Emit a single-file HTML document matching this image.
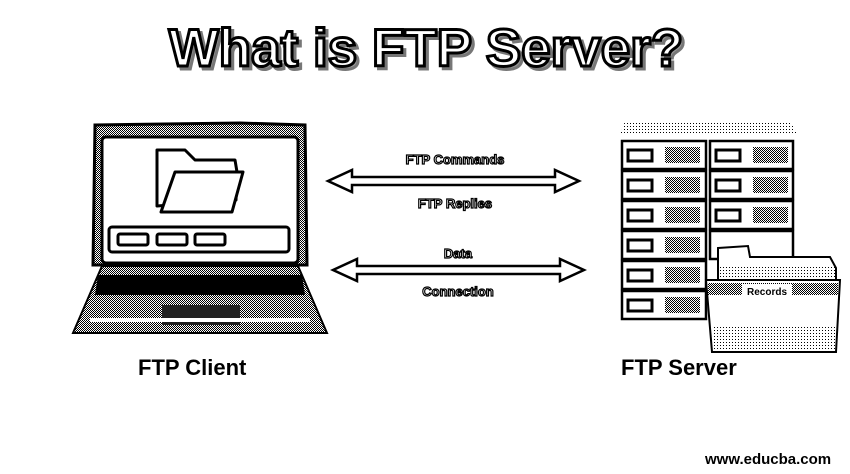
<!DOCTYPE html>
<html><head><style>
body{margin:0;width:850px;height:474px;background:#fff;overflow:hidden;position:relative;font-family:"Liberation Sans",sans-serif}
.t{position:absolute;font-weight:bold}
</style></head><body>
<svg width="850" height="474" style="position:absolute;left:0;top:0">
<defs>
<pattern id="d" width="2" height="2" patternUnits="userSpaceOnUse"><rect width="1" height="1" fill="#000"/><rect x="1" y="1" width="1" height="1" fill="#000"/></pattern>
<pattern id="l" width="3" height="3" patternUnits="userSpaceOnUse"><rect width="1" height="1" fill="#000"/></pattern>
</defs>
<text x="426" y="66" text-anchor="middle" font-family="Liberation Sans" font-weight="bold" font-size="53" fill="#999" stroke="#777" stroke-width="3" transform="translate(3,3)">What is FTP Server?</text>
<text x="426" y="66" text-anchor="middle" font-family="Liberation Sans" font-weight="bold" font-size="53" fill="#fff" stroke="#000" stroke-width="3">What is FTP Server?</text>
<path d="M95 125 L240 123 L305 125 L307 265 L93 265 Z" fill="url(#d)" stroke="#000" stroke-width="3"/>
<rect x="102" y="137" width="196" height="126" rx="4" fill="#fff" stroke="#000" stroke-width="3"/>
<path d="M157 150 L185 150 L195 160 L235 160 L237 172 L236 200 L157 206 Z" fill="#fff" stroke="#000" stroke-width="3" stroke-linejoin="round"/>
<path d="M175 172 L243 172 L232 212 L161 212 Z" fill="#fff" stroke="#000" stroke-width="3" stroke-linejoin="round"/>
<rect x="109" y="227" width="180" height="25" rx="3" fill="#fff" stroke="#000" stroke-width="3"/>
<rect x="118" y="234" width="30" height="11" rx="2" fill="#fff" stroke="#000" stroke-width="3"/>
<rect x="157" y="234" width="30" height="11" rx="2" fill="#fff" stroke="#000" stroke-width="3"/>
<rect x="195" y="234" width="30" height="11" rx="2" fill="#fff" stroke="#000" stroke-width="3"/>
<path d="M102 266 L298 266 L327 333 L73 333 Z" fill="url(#d)" stroke="#000" stroke-width="2"/>
<path d="M98 275 L302 275 L305 295 L95 295 Z" fill="#000"/>
<rect x="162" y="305" width="78" height="20" fill="#222"/>
<path d="M90 320 L310 320" stroke="#fff" stroke-width="4"/>
<g fill="#fff" stroke="#000" stroke-width="2.5">
<path d="M328 181 L352 170 L352 177 L555 177 L555 170 L579 181 L555 192 L555 185 L352 185 L352 192 Z"/>
<path d="M333 270 L357 259 L357 266 L560 266 L560 259 L584 270 L560 281 L560 274 L357 274 L357 281 Z"/>
</g>
<g font-family="Liberation Sans" font-weight="bold" font-size="13" text-anchor="middle" fill="#fff" stroke="#000" stroke-width="1.2">
<text x="455" y="164">FTP Commands</text>
<text x="455" y="208">FTP Replies</text>
<text x="458" y="258">Data</text>
<text x="458" y="296">Connection</text>
</g>
<path d="M625 121 L790 121 L798 135 L620 135 Z" fill="url(#l)"/>
<g stroke="#000" stroke-width="2.5">
<rect x="622" y="141" width="84" height="28" fill="#fff"/><rect x="710" y="141" width="83" height="28" fill="#fff"/>
<rect x="622" y="171" width="84" height="28" fill="#fff"/><rect x="710" y="171" width="83" height="28" fill="#fff"/>
<rect x="622" y="201" width="84" height="28" fill="#fff"/><rect x="710" y="201" width="83" height="28" fill="#fff"/>
<rect x="622" y="231" width="84" height="28" fill="#fff"/><rect x="710" y="231" width="83" height="28" fill="#fff"/>
<rect x="622" y="261" width="84" height="28" fill="#fff"/>
<rect x="622" y="291" width="84" height="28" fill="#fff"/>
</g>
<g fill="#fff" stroke="#000" stroke-width="3">
<rect x="628" y="150" width="24" height="11"/><rect x="716" y="150" width="24" height="11"/>
<rect x="628" y="180" width="24" height="11"/><rect x="716" y="180" width="24" height="11"/>
<rect x="628" y="210" width="24" height="11"/><rect x="716" y="210" width="24" height="11"/>
<rect x="628" y="240" width="24" height="11"/>
<rect x="628" y="270" width="24" height="11"/>
<rect x="628" y="300" width="24" height="11"/>
</g>
<g fill="url(#d)">
<rect x="665" y="147" width="35" height="16"/><rect x="753" y="147" width="35" height="16"/>
<rect x="665" y="177" width="35" height="16"/><rect x="753" y="177" width="35" height="16"/>
<rect x="665" y="207" width="35" height="16"/><rect x="753" y="207" width="35" height="16"/>
<rect x="665" y="237" width="35" height="16"/>
<rect x="665" y="267" width="35" height="16"/>
<rect x="665" y="297" width="35" height="16"/>
</g>
<path d="M718 248 L748 246 L750 257 L830 257 L836 268 L836 290 L718 290 Z" fill="#fff" stroke="#000" stroke-width="2"/>
<rect x="717" y="265" width="120" height="12" fill="url(#l)"/>
<path d="M706 280 L840 280 L836 352 L712 352 Z" fill="#fff" stroke="#000" stroke-width="2"/>
<rect x="708" y="283" width="130" height="12" fill="url(#d)"/>
<rect x="742" y="284" width="50" height="12" fill="#fff"/>
<text x="767" y="295" text-anchor="middle" font-family="Liberation Sans" font-weight="bold" font-size="10">Records</text>
<rect x="712" y="325" width="124" height="27" fill="url(#l)"/>
</svg>
<div class="t" style="left:138px;top:355px;font-size:22px">FTP Client</div>
<div class="t" style="left:621px;top:355px;font-size:22px">FTP Server</div>
<div class="t" style="left:705px;top:451px;font-size:15px">www.educba.com</div>
</body></html>
